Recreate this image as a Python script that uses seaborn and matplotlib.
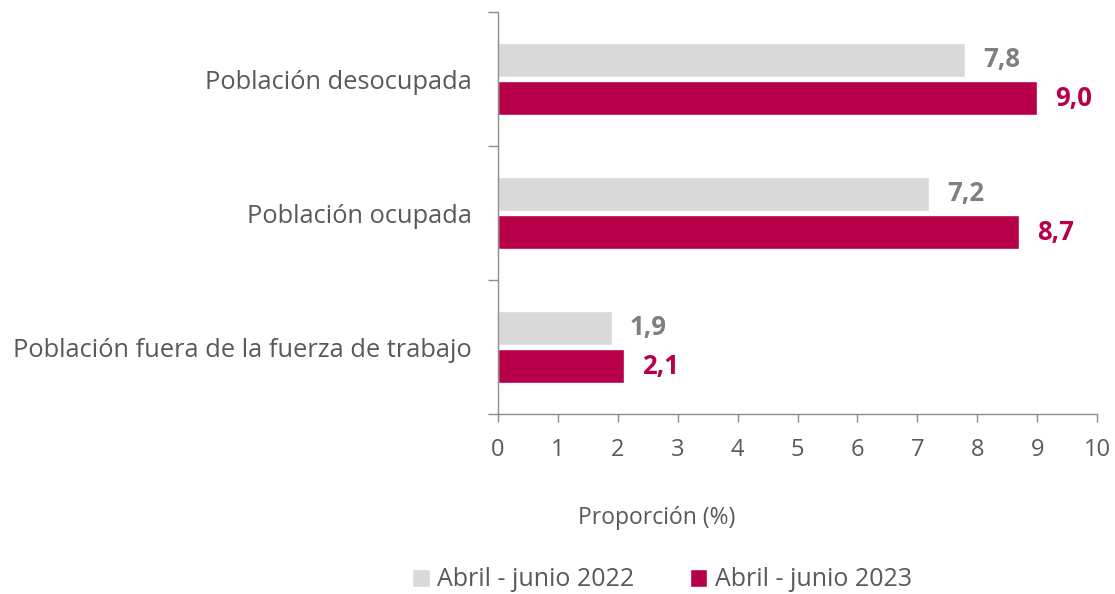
import pandas as pd
import seaborn as sns
import matplotlib.pyplot as plt
from matplotlib.patches import Patch

# Data
categories = ['Población desocupada', 'Población ocupada', 'Población fuera de la fuerza de trabajo']
periods = ['Abril - junio 2022', 'Abril - junio 2023']
values_2022 = [7.8, 7.2, 1.9]
values_2023 = [9.0, 8.7, 2.1]

gray_bar = '#D9D9D9'
red_bar = '#B8004A'
text_gray = '#595959'
label_gray = '#7F7F7F'
axis_gray = '#8C8C8C'

df = pd.DataFrame({
    'categoria': categories * 2,
    'valor': values_2022 + values_2023,
    'periodo': [periods[0]] * 3 + [periods[1]] * 3,
})

sns.set_style('white')
plt.rcParams['font.family'] = ['Open Sans', 'DejaVu Sans']

fig = plt.figure(figsize=(11.15, 5.94), dpi=100)
ax = fig.add_axes([0.4466, 0.303, 0.5373, 0.6768])

sns.barplot(data=df, y='categoria', x='valor', hue='periodo', order=categories,
            hue_order=periods, palette=[gray_bar, red_bar], saturation=1,
            width=0.57, gap=0.1, orient='h', legend=False, ax=ax)

# value labels
for container, color in zip(ax.containers, [label_gray, red_bar]):
    labels = [f'{v:.1f}'.replace('.', ',') for v in container.datavalues]
    ax.bar_label(container, labels=labels, padding=13, color=color,
                 fontsize=18.5, fontweight='bold')

ax.set_xlim(0, 10)
ax.set_ylim(2.5, -0.5)
ax.set_xticks(range(0, 11))
ax.set_yticks([-0.5, 0.5, 1.5, 2.5], minor=True)
ax.tick_params(axis='x', bottom=True, length=6, width=1, color=axis_gray,
               labelcolor=text_gray, labelsize=17, pad=11)
ax.tick_params(axis='y', which='major', left=True, length=0, labelsize=18.3,
               labelcolor=text_gray, pad=19)
ax.tick_params(axis='y', which='minor', left=True, length=7, width=1, color=axis_gray)

ax.set_xlabel('')
ax.set_ylabel('')
for side in ['top', 'right']:
    ax.spines[side].set_visible(False)
for side in ['left', 'bottom']:
    ax.spines[side].set_color(axis_gray)
    ax.spines[side].set_linewidth(1)

fig.text(657 / 1115, 1 - 518 / 594, 'Proporción (%)', ha='center', va='center',
         fontsize=16.5, color=text_gray)

handles = [Patch(facecolor=gray_bar, label=periods[0]),
           Patch(facecolor=red_bar, label=periods[1])]
fig.legend(handles=handles, loc='center', bbox_to_anchor=(662 / 1115, 1 - 580 / 594),
           ncol=2, frameon=False, fontsize=18, labelcolor=text_gray,
           handlelength=0.7, handleheight=0.7, handletextpad=0.3, columnspacing=2.2)

fig.savefig('out.png', dpi=100)
